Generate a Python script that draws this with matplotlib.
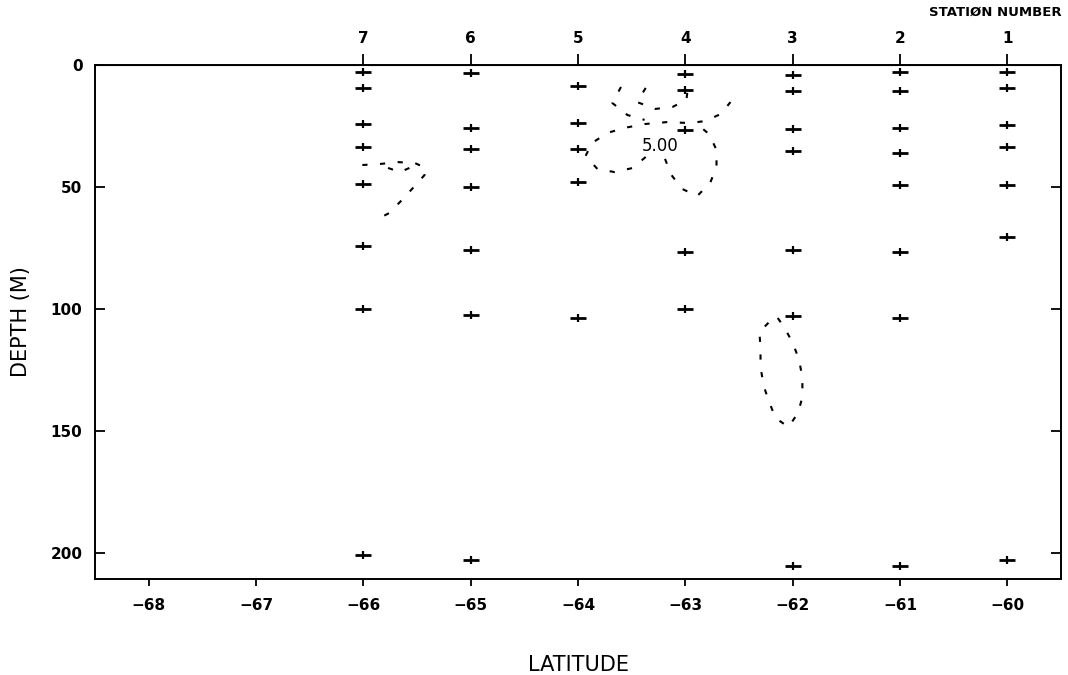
import matplotlib
matplotlib.use('Agg')
import matplotlib.pyplot as plt

# station positions (latitude) and numbers
st_lat = [-66, -65, -64, -63, -62, -61, -60]
st_num = ['7', '6', '5', '4', '3', '2', '1']

# sample depths (m) at each station
depth_st7 = [2.9, 9.4, 24.2, 33.6, 48.8, 74.2, 100.0, 200.8]
depth_st6 = [3.3, 25.8, 34.4, 50.0, 75.8, 102.5, 202.9]
depth_st5 = [8.6, 23.8, 34.4, 48.0, 103.7]
depth_st4 = [3.7, 10.2, 26.6, 76.6, 100.0]
depth_st3 = [4.1, 10.7, 26.2, 35.2, 75.8, 102.9, 205.3]
depth_st2 = [2.9, 10.7, 25.8, 36.1, 49.2, 76.6, 103.7, 205.3]
depth_st1 = [2.9, 9.4, 24.6, 33.6, 49.2, 70.5, 202.9]
depths = [depth_st7, depth_st6, depth_st5, depth_st4, depth_st3, depth_st2, depth_st1]

# 5.00 contour pieces (latitude, depth)
c1_lat = [-66.01, -65.85, -65.68, -65.52, -65.42, -65.43, -65.53, -65.64, -65.76, -65.90]
c1_dep = [41.0, 40.6, 39.8, 40.2, 42.2, 45.1, 50.0, 55.3, 60.7, 63.9]
c2_lat = [-65.77, -65.66, -65.55]
c2_dep = [42.2, 43.9, 41.8]
c3_lat = [-63.37, -63.45, -63.28, -63.12, -62.99, -62.98]
c3_dep = [9.4, 15.2, 18.0, 17.2, 14.3, 10.2]
c4_lat = [-63.60, -63.68, -63.54, -63.38]
c4_dep = [9.0, 15.6, 20.5, 22.5]
c5_lat = [-63.37, -63.49, -63.66, -63.82, -63.93, -63.87, -63.73, -63.57, -63.38,
          -63.17, -62.96, -62.82, -62.67, -62.58]
c5_dep = [37.7, 42.2, 43.9, 42.6, 37.3, 32.0, 27.9, 25.8, 24.2, 23.4, 23.8, 23.0, 20.1, 15.2]
c6_lat = [-63.19, -63.13, -63.03, -62.89, -62.77, -62.71, -62.71, -62.78, -62.87]
c6_dep = [38.5, 45.1, 50.8, 53.7, 48.4, 41.8, 34.8, 28.3, 25.0]
c7_lat = [-62.14, -62.08, -62.00, -61.94, -61.91, -61.91, -61.95, -62.04, -62.16,
          -62.22, -62.27, -62.30, -62.30, -62.31, -62.20, -62.14]
c7_dep = [103.7, 107.4, 113.9, 120.9, 128.3, 136.1, 142.6, 148.4, 144.7,
          138.1, 131.6, 123.8, 116.4, 109.4, 104.5, 103.7]
contours = [(c1_lat, c1_dep), (c2_lat, c2_dep), (c3_lat, c3_dep), (c4_lat, c4_dep),
            (c5_lat, c5_dep), (c6_lat, c6_dep), (c7_lat, c7_dep)]
label_lat, label_dep, label_txt = -63.24, 33.2, '5.00'

x_ticks = [-68, -67, -66, -65, -64, -63, -62, -61, -60]
y_ticks = [0, 50, 100, 150, 200]

fig = plt.figure(figsize=(10.68, 6.75), dpi=100)
ax = fig.add_axes([0.089, 0.1422, 0.9045, 0.7615])

for lat, dep in zip(st_lat, depths):
    ax.plot([lat] * len(dep), dep, ls='none', marker='_', ms=11, mew=2, color='black')
    ax.plot([lat] * len(dep), dep, ls='none', marker='|', ms=6, mew=1.6, color='black')

for clat, cdep in contours:
    ax.plot(clat, cdep, color='black', lw=1.5, ls=(0, (2.5, 6)))
ax.text(label_lat, label_dep, label_txt, ha='center', va='center', fontsize=12)

ax.set_xlim(-68.5, -59.5)
ax.set_ylim(210.7, 0)
ax.set_xticks(x_ticks)
ax.set_xticklabels([str(v).replace('-', '\u2212') for v in x_ticks], fontsize=11, fontweight='bold')
ax.set_yticks(y_ticks)
ax.set_yticklabels([str(v) for v in y_ticks], fontsize=11, fontweight='bold')
ax.tick_params(axis='x', direction='out', length=5, width=1.3, pad=9)
ax.tick_params(axis='y', direction='in', length=7, width=1.3, pad=9, right=True)
for sp in ax.spines.values():
    sp.set_linewidth(1.4)

sec = ax.secondary_xaxis('top')
sec.set_xticks(st_lat)
sec.set_xticklabels(st_num, fontsize=11, fontweight='bold')
sec.tick_params(direction='out', length=8, width=1.3, pad=6)

ax.set_xlabel('LATITUDE', fontsize=15, labelpad=30)
ax.set_ylabel('DEPTH (M)', fontsize=15, labelpad=14)
fig.text(0.994, 0.982, 'STATIØN NUMBER', ha='right', va='center', fontsize=9.5, fontweight='bold')

fig.savefig('out.png', dpi=100)
